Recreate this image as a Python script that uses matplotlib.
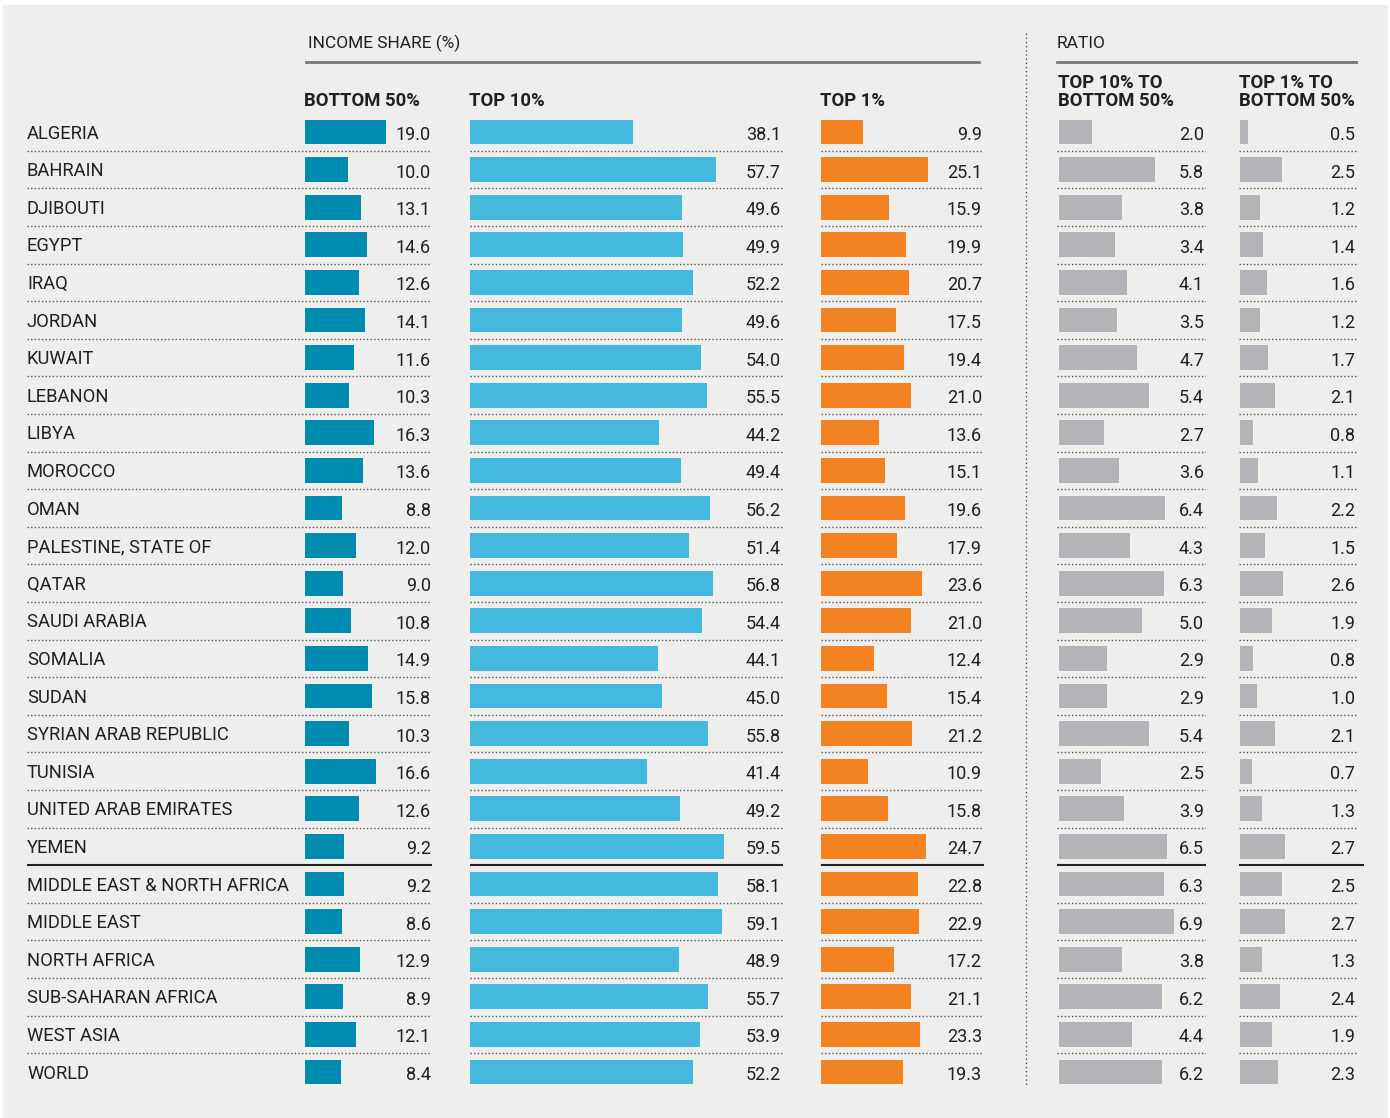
import matplotlib
matplotlib.use('Agg')
import matplotlib.pyplot as plt
from matplotlib.patches import Rectangle

plt.rcParams['font.family'] = ['Roboto', 'DejaVu Sans']

# 数据
countries = ['ALGERIA', 'BAHRAIN', 'DJIBOUTI', 'EGYPT', 'IRAQ', 'JORDAN', 'KUWAIT',
             'LEBANON', 'LIBYA', 'MOROCCO', 'OMAN', 'PALESTINE, STATE OF', 'QATAR',
             'SAUDI ARABIA', 'SOMALIA', 'SUDAN', 'SYRIAN ARAB REPUBLIC', 'TUNISIA',
             'UNITED ARAB EMIRATES', 'YEMEN', 'MIDDLE EAST & NORTH AFRICA',
             'MIDDLE EAST', 'NORTH AFRICA', 'SUB-SAHARAN AFRICA', 'WEST ASIA', 'WORLD']
bottom50 = [19.0, 10.0, 13.1, 14.6, 12.6, 14.1, 11.6, 10.3, 16.3, 13.6, 8.8, 12.0, 9.0,
            10.8, 14.9, 15.8, 10.3, 16.6, 12.6, 9.2, 9.2, 8.6, 12.9, 8.9, 12.1, 8.4]
top10 = [38.1, 57.7, 49.6, 49.9, 52.2, 49.6, 54.0, 55.5, 44.2, 49.4, 56.2, 51.4, 56.8,
         54.4, 44.1, 45.0, 55.8, 41.4, 49.2, 59.5, 58.1, 59.1, 48.9, 55.7, 53.9, 52.2]
top1 = [9.9, 25.1, 15.9, 19.9, 20.7, 17.5, 19.4, 21.0, 13.6, 15.1, 19.6, 17.9, 23.6,
        21.0, 12.4, 15.4, 21.2, 10.9, 15.8, 24.7, 22.8, 22.9, 17.2, 21.1, 23.3, 19.3]
ratio_top10 = [2.0, 5.8, 3.8, 3.4, 4.1, 3.5, 4.7, 5.4, 2.7, 3.6, 6.4, 4.3, 6.3,
               5.0, 2.9, 2.9, 5.4, 2.5, 3.9, 6.5, 6.3, 6.9, 3.8, 6.2, 4.4, 6.2]
ratio_top1 = [0.5, 2.5, 1.2, 1.4, 1.6, 1.2, 1.7, 2.1, 0.8, 1.1, 2.2, 1.5, 2.6,
              1.9, 0.8, 1.0, 2.1, 0.7, 1.3, 2.7, 2.5, 2.7, 1.3, 2.4, 1.9, 2.3]
headers = ['BOTTOM 50%', 'TOP 10%', 'TOP 1%', 'TOP 10% TO\nBOTTOM 50%', 'TOP 1% TO\nBOTTOM 50%']

TXT = '#231f20'
W, H = 1390, 1118
fig = plt.figure(figsize=(W / 100, H / 100), dpi=100, facecolor='white')
bg = fig.add_axes([0, 0, 1, 1])
bg.set_xlim(0, W)
bg.set_ylim(H, 0)
bg.axis('off')
bg.add_patch(Rectangle((3, 5), W - 6, H - 5, color='#eeeeec', zorder=0))

n = len(countries)
row_h = 37.6
top = 132 - row_h / 2
bottom = top + n * row_h
split = countries.index('YEMEN')

# (数值, 颜色, 柱起点, 数值右端, 分隔线左, 分隔线右, 像素/单位, 实线右)
cols = [
    (bottom50, '#008bb0', 305, 431, 27, 432, 4.25, 432),
    (top10, '#45b8dd', 470, 781, 470, 783, 4.27, 783),
    (top1, '#f38322', 821, 982, 821, 984, 4.27, 984),
    (ratio_top10, '#b3b4b7', 1059, 1204, 1057, 1206, 16.6, 1206),
    (ratio_top1, '#b3b4b7', 1240, 1355, 1239, 1356, 16.6, 1364),
]

axes = []
for vals, color, x0, xv, xl, xr, sc, xs in cols:
    ax = fig.add_axes([xl / W, 1 - bottom / H, (xs - xl) / W, (bottom - top) / H])
    ax.set_xlim((xl - x0) / sc, (xs - x0) / sc)
    ax.set_ylim(n - 0.5, -0.5)
    ax.axis('off')
    ax.barh(range(n), vals, height=0.66, color=color, zorder=2)
    for i, v in enumerate(vals):
        ax.text((xv - x0) / sc, i + 0.08, f'{v:.1f}', ha='right', va='center',
                fontsize=13, color=TXT)
    for i in range(n - 1):
        if i == split:
            ax.plot([(xl - x0) / sc, (xs - x0) / sc], [i + 0.5] * 2, color='#222222',
                    lw=1.5, solid_capstyle='butt')
        else:
            ax.plot([(xl - x0) / sc, (xr - x0) / sc], [i + 0.5] * 2, color='#555555',
                    lw=1, linestyle=(0, (1, 1.6)))
    axes.append(ax)

# 国家名
ax0 = axes[0]
for i, c in enumerate(countries):
    ax0.text((27 - 305) / 4.25, i + 0.04, c, ha='left', va='center', fontsize=13.2, color=TXT)

# 表头
bg.text(308, 43, 'INCOME SHARE (%)', ha='left', va='center', fontsize=12.5, color=TXT)
bg.plot([306, 979], [62, 62], color='#777777', lw=2)
bg.text(1057, 43, 'RATIO', ha='left', va='center', fontsize=12.5, color=TXT)
bg.plot([1057, 1356], [62, 62], color='#777777', lw=2)
bg.plot([1026, 1026], [33, 1085], color='#555555', lw=1, linestyle=(0, (1, 2)))

for (vals, color, x0, *_), h in zip(cols, headers):
    bg.text(x0 - 1, 110, h, ha='left', va='bottom', fontsize=13.3, fontweight='bold',
            color=TXT, linespacing=1.0)

fig.savefig('out.png', dpi=100, facecolor=fig.get_facecolor())
